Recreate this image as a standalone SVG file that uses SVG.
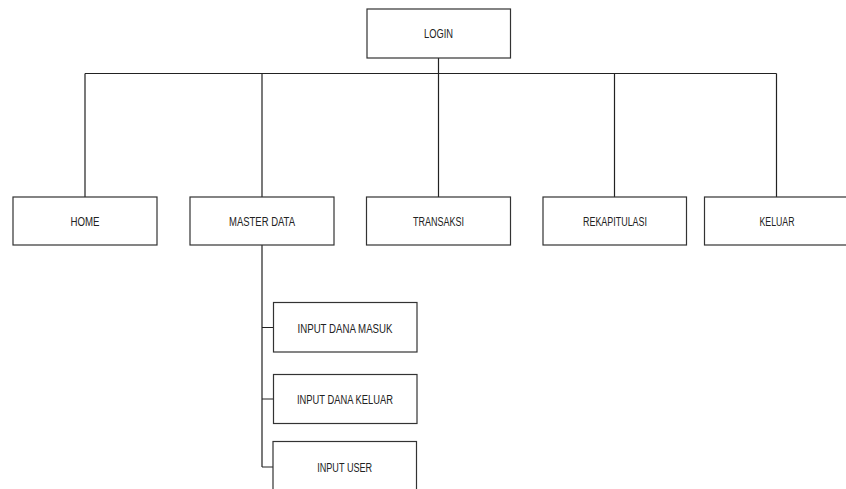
<svg xmlns="http://www.w3.org/2000/svg" width="846" height="489" viewBox="0 0 846 489">
<style>
.box{fill:#fff;stroke:#333;stroke-width:1.2}
.lbl{font-family:"Liberation Sans",Arial,sans-serif;font-size:12px;fill:#222;text-anchor:middle;dominant-baseline:central}
.con{stroke:#222;stroke-width:1.2;fill:none}
</style>
<rect width="846" height="489" fill="#fff"/>
<g id="connectors">
<path class="con" d="M438.5 58V73.5M85 73.5H776.5M85 73.5V197M262 73.5V197M438.5 73.5V197M614.5 73.5V197M776.5 73.5V197"/>
<path class="con" d="M262 245V467M262 327.5H273.5M262 399H273.5M262 467H273.5"/>
</g>
<g id="login"><rect class="box" x="367" y="9" width="143.5" height="49"/><text class="lbl" x="438.5" y="33.5" textLength="29" lengthAdjust="spacingAndGlyphs">LOGIN</text></g>
<g id="home"><rect class="box" x="13" y="197" width="144" height="48"/><text class="lbl" x="85" y="221.5" textLength="29" lengthAdjust="spacingAndGlyphs">HOME</text></g>
<g id="master"><rect class="box" x="190" y="197" width="144" height="48"/><text class="lbl" x="262" y="221.5" textLength="66" lengthAdjust="spacingAndGlyphs">MASTER DATA</text></g>
<g id="transaksi"><rect class="box" x="366.5" y="197" width="144" height="48"/><text class="lbl" x="438.5" y="221.5" textLength="51" lengthAdjust="spacingAndGlyphs">TRANSAKSI</text></g>
<g id="rekap"><rect class="box" x="543" y="197" width="143.5" height="48"/><text class="lbl" x="615" y="221.5" textLength="64" lengthAdjust="spacingAndGlyphs">REKAPITULASI</text></g>
<g id="keluar"><rect class="box" x="704.5" y="197" width="144" height="48"/><text class="lbl" x="777" y="221.5" textLength="35" lengthAdjust="spacingAndGlyphs">KELUAR</text></g>
<g id="masuk"><rect class="box" x="273.5" y="302.5" width="143.5" height="49.5"/><text class="lbl" x="345" y="328.5" textLength="95" lengthAdjust="spacingAndGlyphs">INPUT DANA MASUK</text></g>
<g id="dkeluar"><rect class="box" x="273.5" y="374.5" width="143.5" height="49"/><text class="lbl" x="345" y="400" textLength="96" lengthAdjust="spacingAndGlyphs">INPUT DANA KELUAR</text></g>
<g id="user"><rect class="box" x="273" y="441.5" width="143.5" height="50"/><text class="lbl" x="344.7" y="467.5" textLength="55" lengthAdjust="spacingAndGlyphs">INPUT USER</text></g>
</svg>
